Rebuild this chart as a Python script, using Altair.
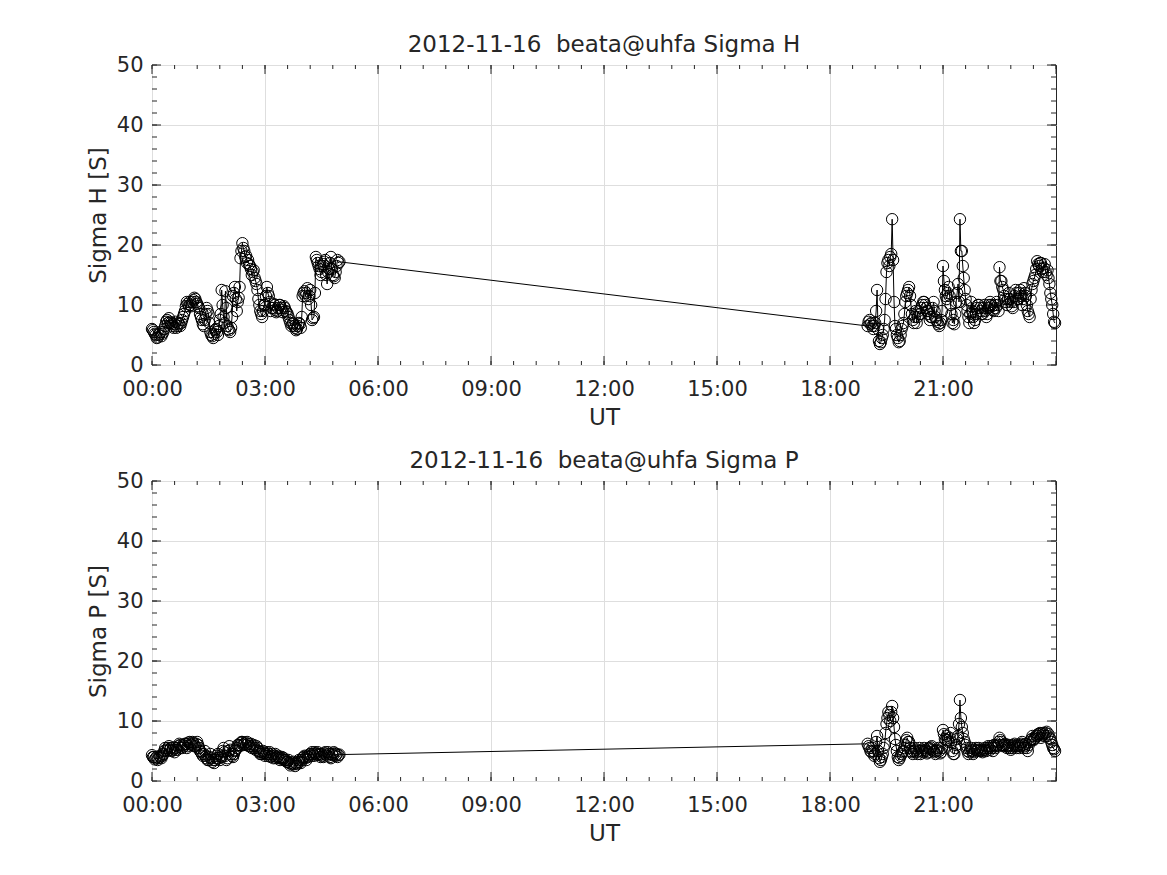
import altair as alt
import pandas as pd
import numpy as np

# sampling: hours UT; two interleaved 3-minute series (offset by 1.5 min)
step_h = 0.05
start_morning = 0.0
start_evening = 19.0
offset_b = 0.025

sigma_h_morning = [
    6.0, 5.5, 5.0, 4.6, 5.2, 4.8, 5.5, 6.5, 7.5, 7.8,
    7.0, 6.5, 6.8, 6.2, 7.0, 6.5, 7.5, 8.5, 9.8, 10.2,
    10.5, 9.8, 10.8, 11.0, 10.2, 9.5, 8.0, 6.8, 7.5, 9.5,
    8.5, 5.5, 4.8, 5.2, 6.0, 5.0, 7.5, 12.5, 8.0, 12.3,
    6.5, 5.8, 6.2, 11.5, 13.0, 9.0, 11.2, 17.8, 20.3, 19.0,
    18.2, 17.5, 16.5, 15.0, 15.8, 14.0, 12.5, 10.0, 8.5, 9.0,
    10.0, 13.0, 11.5, 9.0, 9.5, 10.0, 8.8, 9.5, 10.0, 9.2,
    9.8, 9.0, 8.5, 7.5, 6.5, 7.0, 6.2, 6.0, 7.0, 6.2,
    11.5, 12.3, 12.0, 11.0, 12.5, 7.5, 8.0, 18.0, 17.0, 16.0,
    15.5, 16.8, 17.5, 13.5, 16.0, 18.0, 15.0, 14.5, 16.5, 17.0,
]
sigma_h_morning_b = [
    5.8, 5.2, 4.5, 5.0, 5.5, 5.2, 6.0, 7.2, 7.0, 7.2,
    6.8, 6.2, 7.2, 6.5, 6.8, 7.0, 8.0, 9.0, 10.5, 9.8,
    10.0, 10.5, 11.2, 10.5, 9.8, 8.5, 7.5, 6.5, 8.5, 9.0,
    7.0, 5.0, 4.5, 5.8, 5.5, 6.5, 8.5, 10.0, 7.0, 9.5,
    6.0, 5.5, 8.0, 12.0, 11.0, 10.5, 13.0, 19.0, 19.5, 18.0,
    17.0, 16.8, 16.0, 15.5, 14.5, 13.5, 11.0, 9.0, 8.0, 10.0,
    11.5, 12.0, 10.5, 9.5, 10.2, 9.2, 9.0, 10.0, 9.5, 8.8,
    9.5, 8.8, 8.0, 7.0, 6.8, 6.5, 5.8, 6.5, 6.8, 8.0,
    12.0, 11.5, 12.8, 11.5, 10.0, 7.8, 12.0, 17.5, 16.5, 15.0,
    16.5, 17.2, 15.0, 15.5, 17.0, 16.0, 14.8, 15.5, 17.5, 17.2,
]
sigma_h_evening = [
    6.5, 7.5, 7.0, 6.0, 7.0, 12.5, 4.0, 3.8, 5.0, 7.5,
    15.5, 17.5, 18.0, 24.3, 10.5, 6.0, 4.5, 4.0, 6.0, 7.0,
    10.5, 12.0, 13.0, 10.0, 7.5, 8.0, 7.0, 9.0, 8.5, 10.0,
    10.5, 9.5, 9.0, 7.5, 8.0, 10.5, 8.0, 7.2, 6.5, 7.5,
    16.5, 12.5, 11.0, 13.0, 10.0, 7.0, 6.8, 10.5, 13.5, 24.3,
    19.0, 14.5, 11.0, 9.0, 7.0, 10.5, 8.0, 7.5, 9.5, 10.0,
    9.0, 8.5, 10.0, 8.0, 9.5, 10.5, 9.8, 9.0, 9.5, 10.0,
    16.3, 14.0, 12.5, 11.0, 10.0, 12.0, 10.5, 9.5, 11.5, 12.0,
    11.0, 12.5, 10.0, 12.8, 11.5, 9.0, 8.0, 12.5, 14.0, 15.0,
    17.3, 16.5, 17.0, 15.5, 16.8, 15.0, 14.5, 12.0, 10.0, 7.2,
]
sigma_h_evening_b = [
    7.2, 6.8, 6.5, 6.5, 9.0, 6.0, 3.5, 4.5, 6.0, 11.0,
    17.0, 16.5, 18.5, 17.5, 6.5, 5.0, 3.8, 5.0, 6.5, 8.5,
    11.5, 12.5, 11.5, 8.5, 7.0, 9.0, 8.0, 8.5, 9.5, 10.5,
    10.0, 9.0, 8.5, 8.0, 9.5, 9.0, 7.5, 6.8, 7.0, 9.0,
    14.0, 11.5, 12.0, 11.5, 8.5, 7.5, 8.5, 12.0, 10.5, 19.0,
    16.5, 12.5, 10.0, 8.0, 8.5, 9.0, 7.0, 8.5, 10.0, 9.5,
    8.5, 9.5, 9.0, 8.5, 10.0, 10.0, 9.2, 10.0, 10.5, 9.0,
    14.0, 13.0, 11.5, 10.5, 11.0, 11.0, 9.8, 10.5, 12.5, 11.0,
    12.0, 11.5, 11.0, 12.0, 10.0, 8.5, 11.0, 13.5, 14.5, 16.0,
    16.8, 17.0, 16.0, 16.2, 15.5, 15.8, 13.5, 11.0, 8.5, 7.0,
]
sigma_p_morning = [
    4.3, 4.0, 3.8, 3.5, 4.2, 3.8, 4.5, 5.5, 5.0, 5.8,
    5.5, 5.2, 4.8, 5.5, 5.8, 6.0, 5.5, 5.8, 6.2, 5.8,
    6.5, 6.0, 6.3, 5.8, 6.5, 5.5, 4.8, 4.2, 5.0, 3.8,
    3.5, 4.5, 3.2, 3.0, 3.8, 4.5, 3.5, 4.0, 5.5, 4.2,
    3.8, 5.8, 4.5, 4.0, 5.0, 5.5, 6.0, 6.3, 6.5, 6.2,
    6.0, 6.2, 5.8, 5.5, 6.0, 5.2, 5.5, 4.8, 4.5, 5.0,
    4.2, 4.8, 4.5, 4.0, 4.5, 4.2, 3.8, 4.2, 3.5, 4.0,
    3.8, 3.5, 3.2, 3.0, 2.8, 3.2, 2.5, 2.8, 3.5, 3.0,
    3.8, 4.2, 3.5, 4.0, 4.5, 4.8, 4.2, 4.6, 4.8, 4.3,
    4.5, 4.0, 4.8, 4.2, 4.5, 3.8, 4.3, 4.6, 4.5, 4.3,
]
sigma_p_morning_b = [
    4.0, 3.6, 4.0, 3.8, 4.0, 4.2, 5.0, 5.2, 5.5, 5.2,
    5.0, 5.6, 5.2, 5.2, 6.2, 5.6, 6.0, 6.2, 5.5, 6.4,
    6.2, 6.5, 5.8, 6.2, 6.0, 5.0, 4.5, 4.5, 4.2, 3.5,
    4.0, 3.8, 3.5, 3.5, 4.2, 3.8, 4.2, 5.0, 4.8, 3.5,
    5.0, 5.2, 4.2, 4.5, 5.2, 6.0, 5.8, 6.5, 6.0, 6.4,
    6.5, 5.8, 6.2, 5.8, 5.5, 5.8, 5.0, 4.5, 4.8, 4.6,
    4.5, 4.2, 4.8, 4.2, 3.8, 4.5, 4.0, 3.8, 3.8, 3.6,
    3.5, 3.2, 3.5, 2.6, 3.0, 2.8, 3.0, 3.2, 3.2, 3.5,
    4.0, 3.8, 4.2, 4.4, 4.2, 4.5, 4.8, 4.4, 4.5, 4.0,
    4.2, 4.6, 4.4, 4.8, 4.0, 4.5, 4.8, 4.2, 4.0, 4.4,
]
sigma_p_evening = [
    6.2, 5.5, 4.8, 5.0, 4.5, 7.5, 3.8, 3.5, 4.5, 6.0,
    9.5, 11.5, 10.0, 12.5, 9.0, 6.0, 4.0, 3.8, 4.5, 5.0,
    6.0, 7.2, 6.5, 5.0, 4.5, 5.5, 4.8, 5.0, 4.5, 5.2,
    5.5, 5.0, 4.8, 5.3, 5.8, 5.0, 4.5, 5.2, 5.0, 4.8,
    8.5, 7.0, 7.5, 6.5, 8.0, 5.0, 4.5, 6.0, 7.5, 13.5,
    9.0, 7.0, 6.0, 5.0, 4.8, 5.5, 4.5, 5.2, 5.0, 5.5,
    5.2, 4.8, 5.5, 5.0, 5.8, 5.2, 5.5, 6.0, 5.5, 6.0,
    7.2, 6.5, 5.8, 6.2, 5.5, 6.0, 5.2, 5.8, 6.2, 5.5,
    6.0, 5.8, 6.5, 5.5, 6.2, 5.0, 6.5, 7.0, 6.8, 7.2,
    7.5, 7.8, 7.2, 8.0, 7.5, 8.2, 7.8, 7.0, 6.0, 5.3,
]
sigma_p_evening_b = [
    5.8, 5.0, 5.5, 4.2, 6.5, 5.0, 3.2, 4.0, 5.5, 8.0,
    10.5, 11.0, 11.5, 10.5, 7.0, 5.0, 3.5, 4.2, 4.8, 5.5,
    6.8, 6.5, 5.5, 4.8, 5.0, 5.2, 4.5, 5.5, 5.0, 4.8,
    5.2, 4.6, 5.5, 5.6, 5.2, 4.8, 5.0, 5.5, 4.6, 5.5,
    7.8, 6.8, 6.8, 7.2, 6.5, 4.5, 5.5, 7.0, 9.5, 10.5,
    8.0, 6.5, 5.5, 4.5, 5.2, 5.0, 4.8, 5.5, 5.2, 5.0,
    5.0, 5.2, 5.2, 5.5, 5.5, 5.8, 5.0, 5.8, 5.8, 6.5,
    6.8, 6.0, 6.0, 5.8, 5.8, 5.5, 5.5, 6.0, 5.8, 5.8,
    5.5, 6.2, 6.0, 5.8, 5.5, 6.0, 6.8, 7.5, 7.0, 7.6,
    7.8, 8.0, 7.6, 7.8, 8.0, 7.5, 7.2, 6.5, 5.5, 5.0,
]

x_label_values = [0, 3, 6, 9, 12, 15, 18, 21]
y_label_values = [0, 10, 20, 30, 40, 50]


def grid_times(start, n, off=0.0):
    return [round(start + off + i * step_h, 4) for i in range(n)]


n = len(sigma_h_morning)
df = pd.DataFrame({
    "t": (grid_times(start_morning, n) + grid_times(start_morning, n, offset_b)
          + grid_times(start_evening, n) + grid_times(start_evening, n, offset_b)),
    "h": sigma_h_morning + sigma_h_morning_b + sigma_h_evening + sigma_h_evening_b,
    "p": sigma_p_morning + sigma_p_morning_b + sigma_p_evening + sigma_p_evening_b,
}).sort_values("t").reset_index(drop=True)

W, H = 904, 300
TXT = "#262626"
FONT = "DejaVu Sans"
LBL = 21
TTL = 23

x_major = pd.DataFrame({"t": np.arange(0, 24.01, 3.0)})
x_minor = pd.DataFrame({"t": np.round(np.arange(0, 24.01, 0.6), 2)})
y_major = pd.DataFrame({"v": np.arange(0, 50.01, 10.0)})
y_minor = pd.DataFrame({"v": np.arange(0, 50.01, 2.0)})

xscale = alt.Scale(domain=[0, 24], nice=False, zero=False)
yscale = alt.Scale(domain=[0, 50], nice=False)

common_axis = dict(
    grid=True, ticks=False, tickSize=0, domain=False,
    labelFlush=False, labelOverlap=False,
    labelFont=FONT, titleFont=FONT, labelFontSize=LBL, titleFontSize=TTL,
    labelColor=TXT, titleColor=TXT, titleFontWeight="normal",
    gridColor="#dedede", gridWidth=1)

x_axis = alt.Axis(
    values=x_label_values,
    labelExpr="(datum.value < 10 ? '0' : '') + datum.value + ':00'",
    title="UT", labelPadding=13, titlePadding=7, **common_axis)


def y_axis(ylab):
    return alt.Axis(values=y_label_values, title=ylab, labelPadding=9,
                    titlePadding=6, **common_axis)


def panel(col, ylab, title):
    ya = y_axis(ylab)
    xenc = alt.X("t:Q", scale=xscale, axis=x_axis)
    yenc = alt.Y(f"{col}:Q", scale=yscale, axis=ya)
    base = alt.Chart(df)
    line = base.mark_line(color="black", strokeWidth=1).encode(
        x=xenc, y=yenc, order="t:Q")
    pts = base.mark_point(shape="circle", filled=False, color="black",
                          size=130, strokeWidth=1, opacity=1).encode(x=xenc, y=yenc)

    def xt(d, length, top):
        if top:
            y0, y1 = 0, length
        else:
            y0, y1 = H, H - length
        return alt.Chart(d).mark_rule(color=TXT, strokeWidth=1).encode(
            x=alt.X("t:Q", scale=xscale, axis=x_axis),
            y=alt.value(y0), y2=alt.value(y1))

    def yt(d, length, right):
        if right:
            x0, x1 = W, W - length
        else:
            x0, x1 = 0, length
        return alt.Chart(d).mark_rule(color=TXT, strokeWidth=1).encode(
            y=alt.Y("v:Q", scale=yscale, axis=ya),
            x=alt.value(x0), x2=alt.value(x1))

    ticks = [xt(x_major, 9, False), xt(x_major, 9, True),
             xt(x_minor, 4, False), xt(x_minor, 4, True),
             yt(y_major, 9, False), yt(y_major, 9, True),
             yt(y_minor, 5, False), yt(y_minor, 5, True)]

    return alt.layer(line, pts, *ticks).properties(
        width=W, height=H,
        title=alt.TitleParams(title, fontSize=TTL, fontWeight="normal",
                              color=TXT, font=FONT, offset=-3, frame="group"))


top = panel("h", "Sigma H [S]", "2012-11-16 \u00a0beata@uhfa Sigma H")
bottom = panel("p", "Sigma P [S]", "2012-11-16 \u00a0beata@uhfa Sigma P")

chart = alt.vconcat(top, bottom, spacing=19).properties(
    padding={"left": 78, "top": 25, "right": 5, "bottom": 5},
    background="white"
).configure_view(
    stroke=TXT, strokeWidth=1
)

chart.save("out.html", embed_options={"renderer": "svg", "actions": False})
